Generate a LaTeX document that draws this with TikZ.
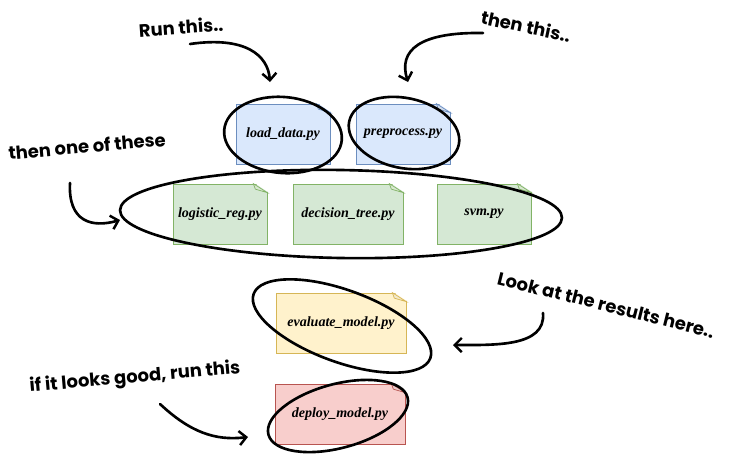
\documentclass[tikz,border=0pt]{standalone}
\usepackage{fontspec}
\usetikzlibrary{arrows.meta}
\newfontfamily\handfont{Poppins}
\newfontfamily\filefont{Liberation Serif}

\definecolor{blueFill}{HTML}{DAE8FC}
\definecolor{blueLine}{HTML}{6C8EBF}
\definecolor{greenFill}{HTML}{D5E8D4}
\definecolor{greenLine}{HTML}{82B366}
\definecolor{yellowFill}{HTML}{FFF2CC}
\definecolor{yellowLine}{HTML}{D6B656}
\definecolor{redFill}{HTML}{F8CECC}
\definecolor{redLine}{HTML}{B85450}

% folded corner of a note
\newcommand{\dogear}[2]{%
  \fill[white] ([xshift=-2.8mm,yshift=0.3mm]#1.north east) -- ([xshift=0.3mm,yshift=0.3mm]#1.north east) -- ([xshift=0.3mm,yshift=-1.8mm]#1.north east) -- cycle;
  \draw[#2, fill=#2!30] ([xshift=-2.8mm]#1.north east) -- ([xshift=-2.4mm,yshift=-1.1mm]#1.north east) -- ([yshift=-1.8mm]#1.north east) -- cycle;
}

\begin{document}
\begin{tikzpicture}[x=0.2mm, y=-0.2mm,
  file/.style={rectangle, draw, thin, minimum width=18.8mm, minimum height=12mm, inner sep=0pt,
    font=\filefont\bfseries\itshape\fontsize{8}{9}\selectfont},
  hand/.style={font=\handfont\bfseries\fontsize{10.2}{12}\selectfont, inner sep=1pt},
  ring/.style={black, line width=1.5pt},
  swoosh/.style={black, line width=1.5pt, line cap=round, -{Straight Barb[length=4pt, width=8pt, line width=1.4pt]}}]

  \useasboundingbox (0,0) rectangle (731,472);

  % Ficheros de carga
  \node[file, fill=blueFill, draw=blueLine] (load) at (283,134) {load\_data.py};
  \node[file, fill=blueFill, draw=blueLine] (prep) at (403,134) {preprocess.py};

  % Modelos
  \node[file, fill=greenFill, draw=greenLine] (logreg) at (220,214) {logistic\_reg.py};
  \node[file, fill=greenFill, draw=greenLine, minimum width=22mm] (tree) at (348,214) {decision\_tree.py};
  \node[file, fill=greenFill, draw=greenLine] (svm) at (484,214) {svm.py};

  % Evaluacion y despliegue
  \node[file, fill=yellowFill, draw=yellowLine, minimum width=26mm] (eval) at (341,323) {evaluate\_model.py};
  \node[file, fill=redFill, draw=redLine, minimum width=26mm] (deploy) at (340,414) {deploy\_model.py};

  \dogear{load}{blueLine}
  \dogear{prep}{blueLine}
  \dogear{logreg}{greenLine}
  \dogear{tree}{greenLine}
  \dogear{svm}{greenLine}
  \dogear{eval}{yellowLine}
  \dogear{deploy}{redLine}

  % Circulos a mano
  \draw[ring, rotate around={-5:(283,135)}] (283,135) ellipse [x radius=11.8mm, y radius=7.6mm];
  \draw[ring, rotate around={-12:(404,133)}] (404,133) ellipse [x radius=11.2mm, y radius=7mm];
  \draw[ring, rotate around={-1:(341,214)}] (341,214) ellipse [x radius=44.2mm, y radius=8.8mm];
  \draw[ring, rotate around={-20:(342,326)}] (342,326) ellipse [x radius=18.8mm, y radius=7.2mm];
  \draw[ring, rotate around={15:(338,416)}] (338,416) ellipse [x radius=14.4mm, y radius=6.4mm];

  % Notas
  \node[hand, rotate=4] (run) at (181,27) {Run this..};
  \node[hand, rotate=-12] (then) at (526,26) {then this..};
  \node[hand, rotate=5] (oneof) at (87,146) {then one of these};
  \node[hand, rotate=-14] (look) at (606,305) {Look at the results here..};
  \node[hand, rotate=5] (good) at (135,378) {if it looks good, run this};

  % Extremos de las flechas
  \coordinate (runS) at (190,44);
  \coordinate (runE) at (270,82);
  \coordinate (thenS) at (483,33);
  \coordinate (thenE) at (408,82);
  \coordinate (oneS) at (70,183);
  \coordinate (oneE) at (120,220);
  \coordinate (lookS) at (543,313);
  \coordinate (lookE) at (453,345);
  \coordinate (goodS) at (160,404);
  \coordinate (goodE) at (248,437);

  % Flechas
  \draw[swoosh] (runS) .. controls (245,36) and (268,55) .. (runE);
  \draw[swoosh] (thenS) .. controls (420,32) and (398,50) .. (thenE);
  \draw[swoosh] (oneS) .. controls (68,222) and (92,228) .. (oneE);
  \draw[swoosh] (lookS) .. controls (546,347) and (495,345) .. (lookE);
  \draw[swoosh] (goodS) .. controls (190,432) and (215,441) .. (goodE);
\end{tikzpicture}
\end{document}
